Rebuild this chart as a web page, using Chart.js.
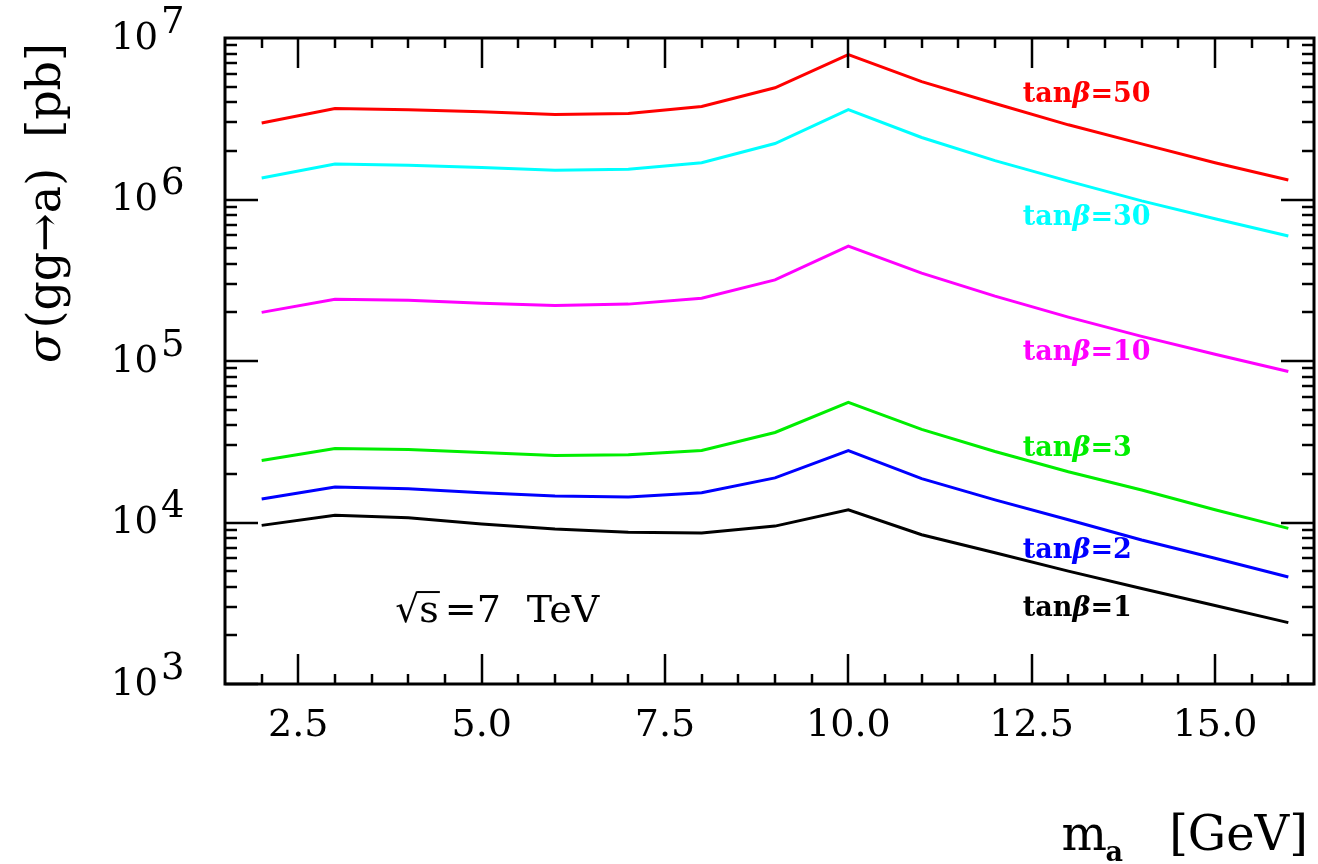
<!DOCTYPE html>
<html>
<head>
<meta charset="utf-8">
<script src="https://cdn.jsdelivr.net/npm/chart.js@4.4.1/dist/chart.umd.min.js"></script>
<style>
  html, body { margin: 0; padding: 0; background: #fff; }
  #wrap { width: 1318px; height: 864px; }
</style>
</head>
<body>
<div id="wrap"><canvas id="sigmaChart" width="1318" height="864"></canvas></div>
<script>
// m_a [GeV]
const masas = [2, 3, 4, 5, 6, 7, 8, 9, 10, 11, 12, 13, 14, 15, 16];

// sigma(gg->a) [pb] para cada tan(beta)
const tanb1  = [9.6e3, 1.11e4, 1.07e4, 9.8e3, 9.1e3, 8.7e3, 8.6e3, 9.5e3, 1.2e4, 8.4e3, 6.5e3, 5.0e3, 3.9e3, 3.06e3, 2.4e3];
const tanb2  = [1.40e4, 1.66e4, 1.62e4, 1.53e4, 1.46e4, 1.44e4, 1.53e4, 1.89e4, 2.79e4, 1.87e4, 1.38e4, 1.04e4, 7.8e3, 6.0e3, 4.6e3];
const tanb3  = [2.42e4, 2.87e4, 2.83e4, 2.71e4, 2.60e4, 2.63e4, 2.79e4, 3.61e4, 5.55e4, 3.77e4, 2.75e4, 2.06e4, 1.59e4, 1.20e4, 9.2e3];
const tanb10 = [2.0e5, 2.41e5, 2.38e5, 2.28e5, 2.21e5, 2.25e5, 2.45e5, 3.18e5, 5.15e5, 3.5e5, 2.52e5, 1.87e5, 1.42e5, 1.10e5, 8.6e4];
const tanb30 = [1.36e6, 1.66e6, 1.63e6, 1.58e6, 1.52e6, 1.54e6, 1.69e6, 2.22e6, 3.6e6, 2.42e6, 1.74e6, 1.30e6, 9.8e5, 7.6e5, 5.95e5];
const tanb50 = [2.98e6, 3.66e6, 3.6e6, 3.5e6, 3.36e6, 3.41e6, 3.77e6, 4.92e6, 7.9e6, 5.37e6, 3.93e6, 2.9e6, 2.21e6, 1.69e6, 1.32e6];

const xTicks = [2.5, 5.0, 7.5, 10.0, 12.5, 15.0];
const yDecadas = [3, 4, 5, 6, 7];

const series = [
    { nombre: 'tan\u03b2=50', datos: tanb50, color: '#ff0000', etiqueta: [12.38, 4.45e6] },
    { nombre: 'tan\u03b2=30', datos: tanb30, color: '#00ffff', etiqueta: [12.38, 7.7e5] },
    { nombre: 'tan\u03b2=10', datos: tanb10, color: '#ff00ff', etiqueta: [12.38, 1.12e5] },
    { nombre: 'tan\u03b2=3',  datos: tanb3,  color: '#00ee00', etiqueta: [12.38, 2.85e4] },
    { nombre: 'tan\u03b2=2',  datos: tanb2,  color: '#0000ff', etiqueta: [12.38, 6.7e3] },
    { nombre: 'tan\u03b2=1',  datos: tanb1,  color: '#000000', etiqueta: [12.38, 2.93e3] }
];

const SERIF = '"DejaVu Serif", serif';

function linea(ctx, x1, y1, x2, y2) {
    ctx.beginPath();
    ctx.moveTo(x1, y1);
    ctx.lineTo(x2, y2);
    ctx.stroke();
}

const marco = {
    id: 'marco',
    afterDraw(chart) {
        const ctx = chart.ctx;
        const xs = chart.scales.x;
        const ys = chart.scales.y;
        const a = chart.chartArea;
        ctx.save();
        ctx.strokeStyle = '#000';
        ctx.fillStyle = '#000';

        // ticks eje x (abajo y arriba)
        ctx.lineWidth = 2.5;
        for (let v = 2; v <= 16.001; v += 0.5) {
            const px = Math.round(xs.getPixelForValue(v));
            const mayor = xTicks.some(t => Math.abs(t - v) < 1e-6);
            const len = mayor ? 30 : 10;
            linea(ctx, px, a.bottom, px, a.bottom - len);
            linea(ctx, px, a.top, px, a.top + len);
        }

        // ticks eje y (izquierda y derecha)
        for (let k = 3; k <= 6; k++) {
            for (let m = 1; m <= 9; m++) {
                const py = Math.round(ys.getPixelForValue(m * Math.pow(10, k)));
                const len = m === 1 ? 33 : 12;
                linea(ctx, a.left, py, a.left + len, py);
                linea(ctx, a.right, py, a.right - len, py);
            }
        }

        // marco
        ctx.lineWidth = 3;
        ctx.strokeRect(a.left, a.top, a.right - a.left, a.bottom - a.top);

        // etiquetas eje x
        ctx.font = '38px ' + SERIF;
        ctx.textAlign = 'center';
        ctx.textBaseline = 'middle';
        xTicks.forEach(t => {
            ctx.fillText(t.toFixed(1), xs.getPixelForValue(t), a.bottom + 42);
        });

        // etiquetas eje y: 10^k
        ctx.font = '37px ' + SERIF;
        yDecadas.forEach(k => {
            const py = ys.getPixelForValue(Math.pow(10, k));
            ctx.textAlign = 'right';
            ctx.fillText('10', 158, py + 1);
            ctx.textAlign = 'left';
            ctx.fillText(String(k), 161, py - 15);
        });

        // titulo eje y
        ctx.save();
        ctx.translate(48, 203);
        ctx.rotate(-Math.PI / 2);
        ctx.textBaseline = 'middle';
        ctx.textAlign = 'left';
        const fSig = 'italic 46px ' + SERIF;
        const fRes = '46px ' + SERIF;
        ctx.font = fSig;
        const wSig = ctx.measureText('\u03c3').width;
        ctx.font = fRes;
        const parte1 = '(gg\u2192a)';
        const parte2 = '[pb]';
        const w1 = ctx.measureText(parte1).width;
        const w2 = ctx.measureText(parte2).width;
        const hueco = 30;
        let x0 = -(wSig + 3 + w1 + hueco + w2) / 2;
        ctx.font = fSig;
        ctx.fillText('\u03c3', x0, 0);
        ctx.font = fRes;
        ctx.fillText(parte1, x0 + wSig + 3, 0);
        ctx.fillText(parte2, x0 + wSig + 3 + w1 + hueco, 0);
        ctx.restore();

        // titulo eje x: m_a [GeV]
        ctx.textBaseline = 'alphabetic';
        ctx.textAlign = 'right';
        ctx.font = '48px ' + SERIF;
        ctx.fillText('[GeV]', 1308, 850);
        ctx.font = 'bold 27px ' + SERIF;
        ctx.fillText('a', 1123, 861);
        ctx.font = '48px ' + SERIF;
        ctx.fillText('m', 1107, 850);

        // sqrt(s) = 7 TeV
        ctx.textAlign = 'left';
        const sx = xs.getPixelForValue(3.82);
        const sy = ys.getPixelForValue(2.87e3);
        ctx.font = '38px ' + SERIF;
        ctx.textBaseline = 'middle';
        ctx.fillText('\u221a', sx, sy + 2);
        const wRad = ctx.measureText('\u221a').width;
        const wS = ctx.measureText('s').width;
        ctx.fillText('s', sx + wRad, sy + 2);
        ctx.lineWidth = 2;
        linea(ctx, sx + wRad - 2, sy - 18, sx + wRad + wS + 1, sy - 18);
        const xEq = sx + wRad + wS + 6;
        ctx.fillText('=7', xEq, sy + 2);
        const wEq = ctx.measureText('=7').width;
        ctx.fillText('TeV', xEq + wEq + 26, sy + 2);

        // etiquetas de series
        series.forEach(s => {
            const lx = xs.getPixelForValue(s.etiqueta[0]);
            const ly = ys.getPixelForValue(s.etiqueta[1]);
            ctx.fillStyle = s.color;
            ctx.textBaseline = 'middle';
            ctx.font = 'bold 27px ' + SERIF;
            const p1 = 'tan';
            ctx.fillText(p1, lx, ly);
            let w = ctx.measureText(p1).width;
            ctx.font = 'italic bold 27px ' + SERIF;
            ctx.fillText('\u03b2', lx + w, ly);
            w += ctx.measureText('\u03b2').width;
            ctx.font = 'bold 27px ' + SERIF;
            ctx.fillText(s.nombre.split('\u03b2')[1], lx + w, ly);
        });

        ctx.restore();
    }
};

const ctx = document.getElementById('sigmaChart').getContext('2d');
new Chart(ctx, {
    type: 'line',
    data: {
        datasets: series.map(s => ({
            label: s.nombre,
            data: masas.map((m, i) => ({ x: m, y: s.datos[i] })),
            borderColor: s.color,
            borderWidth: 3,
            pointRadius: 0,
            fill: false,
            tension: 0
        }))
    },
    options: {
        responsive: false,
        animation: false,
        devicePixelRatio: 1,
        layout: { padding: { left: 225, right: 4, top: 38, bottom: 180 } },
        scales: {
            x: { type: 'linear', min: 1.5, max: 16.35, display: false },
            y: { type: 'logarithmic', min: 1e3, max: 1e7, display: false }
        },
        plugins: {
            legend: { display: false },
            tooltip: { enabled: false }
        }
    },
    plugins: [marco]
});
</script>
</body>
</html>
